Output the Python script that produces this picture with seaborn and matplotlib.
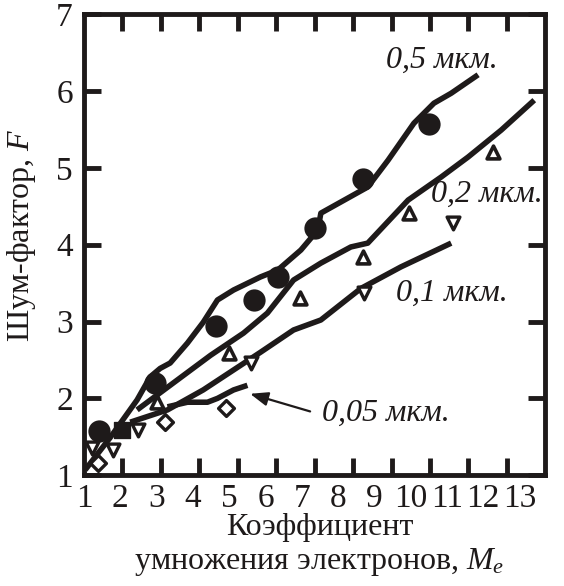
import numpy as np
import pandas as pd
import matplotlib
matplotlib.use("Agg")
import matplotlib.pyplot as plt
import seaborn as sns

# === Data ===
# curves (electron multiplication Me vs noise factor F)
c05_x = [1.03, 1.68, 2.38, 2.72, 2.98, 3.24, 3.69, 4.10, 4.47, 4.89, 5.59, 6.04, 6.64, 7.08, 7.16, 8.38, 8.91, 9.58, 10.1, 10.55, 11.25]
c05_y = [1.07, 1.49, 1.98, 2.28, 2.39, 2.46, 2.72, 2.99, 3.28, 3.41, 3.58, 3.67, 3.93, 4.19, 4.41, 4.75, 5.10, 5.58, 5.84, 5.97, 6.21]
c02_x = [2.38, 3.24, 4.29, 5.15, 5.77, 6.45, 7.16, 7.94, 8.38, 9.43, 10.29, 10.99, 11.85, 12.71]
c02_y = [1.85, 2.17, 2.56, 2.85, 3.11, 3.54, 3.76, 3.97, 4.02, 4.58, 4.88, 5.14, 5.49, 5.88]
c01_x = [2.20, 3.17, 4.10, 4.89, 5.59, 6.45, 7.16, 8.20, 9.24, 10.55]
c01_y = [1.69, 1.85, 2.11, 2.37, 2.60, 2.89, 3.02, 3.43, 3.71, 4.02]
c005_x = [3.17, 3.69, 4.21, 4.47, 4.89, 5.25]
c005_y = [1.89, 1.95, 1.95, 2.00, 2.11, 2.17]

# measured points
circ_x = [1.38, 2.85, 4.42, 5.41, 6.04, 7.00, 8.25, 9.97]
circ_y = [1.58, 2.20, 2.94, 3.28, 3.58, 4.22, 4.85, 5.57]
sq_x = [1.99]
sq_y = [1.59]
tri_up_x = [2.90, 4.76, 6.61, 8.25, 9.45, 11.64]
tri_up_y = [1.95, 2.59, 3.30, 3.84, 4.41, 5.21]
tri_dn_x = [1.20, 1.76, 2.41, 5.33, 8.28, 10.60]
tri_dn_y = [1.36, 1.33, 1.59, 2.46, 3.37, 4.28]
diam_x = [1.37, 3.11, 4.68]
diam_y = [1.16, 1.69, 1.87]

curve_names = ["0,5 мкм.", "0,2 мкм.", "0,1 мкм.", "0,05 мкм."]
xtick_labels = [str(i) for i in range(1, 14)]
ytick_vals = [1, 2, 3, 4, 5, 6, 7]

# === Style ===
sns.set_theme(style="ticks")
plt.rcParams["font.family"] = ["Liberation Serif", "DejaVu Serif"]
plt.rcParams["mathtext.fontset"] = "custom"
plt.rcParams["mathtext.it"] = "Liberation Serif:italic"
plt.rcParams["mathtext.rm"] = "Liberation Serif"
INK = "#1e1a1a"

fig = plt.figure(figsize=(5.64, 5.86), dpi=100)
ax = fig.add_axes([0.149, 0.189, 0.818, 0.787])

curves = [(c05_x, c05_y), (c02_x, c02_y), (c01_x, c01_y), (c005_x, c005_y)]
for (cx, cy), name in zip(curves, curve_names):
    df = pd.DataFrame({"Me": cx, "F": cy})
    sns.lineplot(data=df, x="Me", y="F", sort=False, color=INK, lw=4.0,
                 ax=ax, legend=False, solid_capstyle="butt")

pts = pd.DataFrame({"Me": circ_x, "F": circ_y})
sns.scatterplot(data=pts, x="Me", y="F", marker="o", s=220, color=INK,
                edgecolor=INK, ax=ax, zorder=5)
pts = pd.DataFrame({"Me": sq_x, "F": sq_y})
sns.scatterplot(data=pts, x="Me", y="F", marker="s", s=140, color=INK,
                edgecolor=INK, ax=ax, zorder=5)
pts = pd.DataFrame({"Me": tri_up_x, "F": tri_up_y})
sns.scatterplot(data=pts, x="Me", y="F", marker="^", s=85, facecolor="white",
                edgecolor=INK, linewidth=2.6, ax=ax, zorder=5)
pts = pd.DataFrame({"Me": tri_dn_x, "F": tri_dn_y})
sns.scatterplot(data=pts, x="Me", y="F", marker="v", s=85, facecolor="white",
                edgecolor=INK, linewidth=2.4, ax=ax, zorder=5)
pts = pd.DataFrame({"Me": diam_x, "F": diam_y})
sns.scatterplot(data=pts, x="Me", y="F", marker="D", s=65, facecolor="white",
                edgecolor=INK, linewidth=2.4, ax=ax, zorder=5)

# curve labels
lab_kw = dict(fontsize=23, style="italic", color=INK, ha="center", va="center")
ax.text(10.30, 6.40, curve_names[0], **lab_kw)
ax.text(11.49, 4.65, curve_names[1], **lab_kw)
ax.text(10.58, 3.37, curve_names[2], **lab_kw)
ax.text(8.85, 1.81, curve_names[3], **lab_kw)
ax.annotate("", xy=(5.25, 2.07), xytext=(6.95, 1.82),
            arrowprops=dict(arrowstyle="-|>,head_length=0.9,head_width=0.35",
                            color=INK, lw=1.6))

# axes
ax.set_xlim(1, 13)
ax.set_ylim(1, 7)
ax.set_yticks(ytick_vals)
ax.set_yticklabels([str(v) for v in ytick_vals], fontsize=24, color=INK)
# tick marks at integers, labels printed slightly compressed as in the original
ax.set_xticks(np.arange(2, 13), minor=True)
ax.set_xticks(1 + np.arange(13) * 0.944)
ax.set_xticklabels(xtick_labels, fontsize=24, color=INK)
ax.tick_params(axis="x", which="major", length=0, pad=6)
ax.tick_params(axis="x", which="minor", direction="in", length=12, width=3.5,
               top=True, bottom=True, color=INK)
ax.tick_params(axis="y", which="major", direction="in", length=12, width=3.5,
               left=True, right=True, color=INK, pad=8)
for s in ax.spines.values():
    s.set_linewidth(3.5)
    s.set_color(INK)
    s.set_visible(True)

ax.set_xlabel("Коэффициент\nумножения электронов, $M_e$", fontsize=23,
              color=INK, linespacing=1.15)
ax.xaxis.set_label_coords(0.51, -0.082)
ax.set_ylabel("Шум-фактор, $F$", fontsize=23, color=INK)
ax.yaxis.set_label_coords(-0.10, 0.52)

fig.savefig("out.png", dpi=100)
